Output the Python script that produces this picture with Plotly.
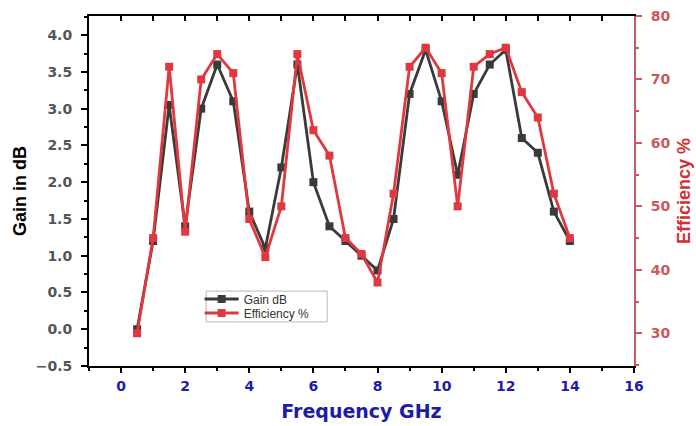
import plotly.graph_objects as go

freq = [0.5, 1, 1.5, 2, 2.5, 3, 3.5, 4, 4.5, 5, 5.5, 6, 6.5, 7, 7.5, 8, 8.5, 9, 9.5, 10, 10.5, 11, 11.5, 12, 12.5, 13, 13.5, 14]
gain_db = [0.0, 1.2, 3.05, 1.4, 3.0, 3.6, 3.1, 1.6, 1.1, 2.2, 3.6, 2.0, 1.4, 1.2, 1.0, 0.8, 1.5, 3.2, 3.8, 3.1, 2.1, 3.2, 3.6, 3.8, 2.6, 2.4, 1.6, 1.2]
efficiency = [30, 45, 72, 46, 70, 74, 71, 48, 42, 50, 74, 62, 58, 45, 42.5, 38, 52, 72, 75, 71, 50, 72, 74, 75, 68, 64, 52, 45]

BLACK = "#3a3a3a"
RED = "#e0383e"
AXRED = "#c95a5a"
BLUE = "#1c1ca8"
GRAY = "#555555"
WIDE = "DejaVu Sans"
NARROW = "Liberation Sans"

fig = go.Figure()
fig.add_trace(go.Scatter(x=freq, y=gain_db, name="Gain dB", mode="lines+markers",
                         line=dict(color=BLACK, width=2.8),
                         marker=dict(symbol="square", size=8, color=BLACK),
                         xaxis="x", yaxis="y", legend="legend"))
fig.add_trace(go.Scatter(x=freq, y=efficiency, name="Efficiency %", mode="lines+markers",
                         line=dict(color=RED, width=2.8),
                         marker=dict(symbol="square", size=8, color=RED),
                         xaxis="x", yaxis="y2", legend="legend2"))
# invisible helper trace for the top (mirrored) axis
fig.add_trace(go.Scatter(x=freq, y=gain_db, mode="lines", line=dict(width=0), opacity=0,
                         showlegend=False, hoverinfo="skip", xaxis="x2", yaxis="y"))

legfont = dict(size=12, color="#333333", family=NARROW)
fig.update_layout(
    width=696, height=426,
    margin=dict(l=89, r=62, t=16, b=60, autoexpand=False),
    paper_bgcolor="white", plot_bgcolor="white",
    font=dict(family=NARROW),
    showlegend=True,
    legend=dict(x=0.203, y=0.1914, xanchor="left", yanchor="middle",
                bgcolor="rgba(255,255,255,0)", borderwidth=0,
                font=legfont, itemwidth=34),
    legend2=dict(x=0.203, y=0.1514, xanchor="left", yanchor="middle",
                 bgcolor="rgba(255,255,255,0)", borderwidth=0,
                 font=legfont, itemwidth=34),
    shapes=[dict(type="rect", xref="paper", yref="paper", x0=0.215, x1=0.437, y0=0.126, y1=0.214,
                 line=dict(color="#b8b8b8", width=1), fillcolor="rgba(0,0,0,0)", layer="below")],
    xaxis=dict(range=[-1, 16], tickvals=[0, 2, 4, 6, 8, 10, 12, 14, 16], automargin=False,
               ticks="outside", ticklen=5, tickwidth=2, tickcolor="black", ticklabelstandoff=1,
               showline=True, linecolor="black", linewidth=2, showgrid=False, zeroline=False,
               minor=dict(dtick=1, ticks="outside", ticklen=3, tickwidth=2, tickcolor="black"),
               tickfont=dict(size=14, color=BLUE, weight="bold", family=WIDE),
               title=dict(text="Frequency GHz", font=dict(size=19, color=BLUE, weight="bold", family=WIDE), standoff=12)),
    xaxis2=dict(range=[-1, 16], overlaying="x", side="top", dtick=1, tick0=0, automargin=False,
                ticks="inside", ticklen=5, tickwidth=2, tickcolor="black",
                showline=True, linecolor="black", linewidth=2, showgrid=False, zeroline=False,
                showticklabels=False),
    yaxis=dict(range=[-0.5, 4.26], dtick=0.5, tick0=0, tickformat=".1f", automargin=False,
               ticks="outside", ticklen=6, tickwidth=2, tickcolor="black", ticklabelstandoff=6,
               showline=True, linecolor="black", linewidth=2, showgrid=False, zeroline=False,
               minor=dict(dtick=0.25, ticks="outside", ticklen=3, tickwidth=1.5, tickcolor="black"),
               tickfont=dict(size=14, color=GRAY, weight="bold", family=WIDE),
               title=dict(text="Gain in dB", font=dict(size=18, color="black", weight="bold", family=NARROW), standoff=4)),
    yaxis2=dict(range=[24.84, 80], dtick=10, tick0=0, overlaying="y", side="right", automargin=False,
                ticks="outside", ticklen=6, tickwidth=2, tickcolor=AXRED, ticklabelstandoff=6,
                showline=True, linecolor=AXRED, linewidth=2, showgrid=False, zeroline=False,
                minor=dict(dtick=5, ticks="outside", ticklen=3, tickwidth=1.5, tickcolor=AXRED),
                tickfont=dict(size=14, color=AXRED, weight="bold", family=WIDE),
                title=dict(text="Efficiency %", font=dict(size=18, color="#d03030", weight="bold", family=NARROW), standoff=8)),
)

fig.write_html("out.html")
